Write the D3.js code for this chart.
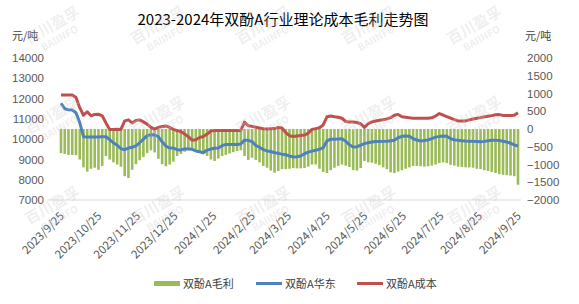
<!DOCTYPE html>
<html>
<head>
<meta charset="utf-8">
<script src="https://cdn.jsdelivr.net/npm/d3@7"></script>
<style>
  body { margin: 0; background: #fff; }
  svg { display: block; font-family: "Noto Sans CJK SC", "Noto Sans", sans-serif; }
  .tick text { fill: #595959; font-size: 11.5px; }
  .legend text { fill: #404040; font-size: 11px; }
</style>
</head>
<body>
<script>
'use strict';

// sample dates: one point every 3 days, 2023/9/25 .. 2024/9/25
const startDate = '2023-09-25';
const endDate = '2024-09-25';
const stepDays = 3;

// 双酚A华东 price (元/吨, left axis)
const priceEast = [
    11770, 11500, 11450, 11440, 11300, 10820, 10120, 10110, 10100, 10100,
    10110, 10120, 10120, 9980, 9820, 9700, 9530, 9480, 9560, 9600,
    9670, 9820, 10000, 10170, 10220, 10210, 10120, 9870, 9660, 9560,
    9560, 9480, 9470, 9520, 9510, 9500, 9420, 9380, 9330, 9460,
    9510, 9550, 9560, 9680, 9740, 9740, 9740, 9740, 9760, 9950,
    9940, 9880, 9690, 9600, 9480, 9420, 9390, 9330, 9300, 9260,
    9230, 9170, 9120, 9130, 9170, 9280, 9360, 9410, 9450, 9500,
    9580, 9910, 10000, 10000, 10010, 10020, 9900, 9720, 9610, 9630,
    9700, 9780, 9820, 9860, 9880, 9880, 9890, 9900, 9920, 9950,
    10070, 10140, 10150, 10140, 10020, 9960, 9910, 9930, 9960, 10030,
    10100, 10130, 10160, 10140, 10020, 9970, 9940, 9920, 9910, 9900,
    9890, 9880, 9870, 9890, 9920, 9950, 9950, 9930, 9900, 9860,
    9800, 9720, 9660
];

// 双酚A成本 theoretical cost (元/吨, left axis)
const costSeries = [
    12180, 12180, 12180, 12180, 12050, 11550, 11180, 11350, 11150, 11220,
    11230, 11150, 10800, 10480, 10470, 10490, 10480, 10900, 10950, 10800,
    10920, 10950, 10850, 10740, 10580, 10490, 10580, 10620, 10650, 10580,
    10480, 10420, 10380, 10250, 10120, 9950, 9970, 10080, 10130, 10250,
    10400, 10420, 10430, 10420, 10420, 10430, 10420, 10420, 10430, 10840,
    10660, 10630, 10590, 10550, 10510, 10500, 10510, 10520, 10580, 10550,
    10320, 10170, 10130, 10160, 10180, 10200, 10300, 10480, 10520, 10560,
    10700, 11100, 11140, 11100, 11080, 11030, 10870, 10850, 10840, 10820,
    10760, 10580, 10760, 10850, 10890, 10930, 10960, 11000, 11060, 11180,
    11220, 11100, 11080, 11050, 11030, 11030, 11030, 11030, 11030, 11050,
    11140, 11260, 11190, 11110, 11040, 10960, 10900, 10890, 10900, 10950,
    10990, 11030, 11060, 11100, 11130, 11160, 11200, 11210, 11170, 11160,
    11160, 11180, 11300
];

// 双酚A毛利 gross profit (元/吨, right axis)
const profitSeries = [
    -680, -700, -730, -730, -740, -860, -1080, -1200, -1120, -1090,
    -1150, -1040, -760, -860, -940, -1000, -1060, -1330, -1380, -1150,
    -990, -880, -790, -680, -600, -660, -840, -990, -1050, -1000,
    -920, -760, -700, -640, -590, -550, -580, -640, -700, -760,
    -860, -900, -830, -760, -730, -690, -650, -620, -600, -760,
    -870, -810, -870, -940, -1040, -1090, -1170, -1230, -1180, -1130,
    -1130, -1120, -1100, -1110, -1110, -1100, -1060, -1000, -1000, -1120,
    -1210, -1240, -1160, -1090, -1040, -1000, -1030, -1070, -1160, -1170,
    -1100, -900, -940, -950, -980, -1020, -1080, -1130, -1220, -1240,
    -1200, -1160, -1120, -1080, -1040, -1040, -1050, -1060, -1050, -1030,
    -1000, -960, -940, -960, -1010, -1030, -1060, -1070, -1080, -1080,
    -1090, -1120, -1130, -1160, -1180, -1210, -1240, -1270, -1290, -1300,
    -1310, -1330, -1570
];

const xTickLabels = [
    '2023/9/25', '2023/10/25', '2023/11/25', '2023/12/25', '2024/1/25', '2024/2/25',
    '2024/3/25', '2024/4/25', '2024/5/25', '2024/6/25', '2024/7/25', '2024/8/25', '2024/9/25'
];
const leftTicks = [7000, 8000, 9000, 10000, 11000, 12000, 13000, 14000];
const rightTicks = [-2000, -1500, -1000, -500, 0, 500, 1000, 1500, 2000];
const seriesNames = ['双酚A毛利', '双酚A华东', '双酚A成本'];
const colors = { profit: '#9bbb59', price: '#4f81bd', cost: '#c0504d' };

function draw() {
    const width = 579, height = 304;
    const plot = { left: 61, right: 518, top: 58, bottom: 200 };
    const parse = d3.timeParse('%Y-%m-%d');
    const parseTick = d3.timeParse('%Y/%m/%d');
    const dates = d3.range(priceEast.length).map(i => d3.timeDay.offset(parse(startDate), i * stepDays));

    const x = d3.scaleTime().domain([parse(startDate), parse(endDate)]).range([plot.left, plot.right]);
    const yL = d3.scaleLinear().domain([7000, 14000]).range([plot.bottom, plot.top]);
    const yR = d3.scaleLinear().domain([-2000, 2000]).range([plot.bottom, plot.top]);

    const svg = d3.select('body').append('svg').attr('width', width).attr('height', height);

    // title + units
    svg.append('text').attr('x', 283).attr('y', 25).attr('text-anchor', 'middle')
        .attr('font-size', 15).attr('fill', '#000')
        .text('2023-2024年双酚A行业理论成本毛利走势图');
    svg.append('text').attr('x', 12).attr('y', 40).attr('font-size', 11).attr('fill', '#404040').text('元/吨');
    svg.append('text').attr('x', 525).attr('y', 40).attr('font-size', 11).attr('fill', '#404040').text('元/吨');

    // axes
    svg.append('g').attr('transform', 'translate(47,0)')
        .call(d3.axisLeft(yL).tickValues(leftTicks).tickSize(0).tickPadding(3).tickFormat(d3.format('d')))
        .call(g => g.select('.domain').remove());
    svg.append('g').attr('transform', 'translate(524,0)')
        .call(d3.axisRight(yR).tickValues(rightTicks).tickSize(0).tickPadding(3).tickFormat(d3.format('d')))
        .call(g => g.select('.domain').remove());
    svg.selectAll('.tick text').attr('font-family', null);

    svg.append('line').attr('x1', 48).attr('x2', 521).attr('y1', plot.bottom).attr('y2', plot.bottom)
        .attr('stroke', '#d9d9d9').attr('stroke-width', 1);

    svg.append('g').attr('class', 'tick').selectAll('text')
        .data(xTickLabels).enter().append('text')
        .attr('transform', d => 'translate(' + (x(parseTick(d)) + 1) + ',' + (plot.bottom + 14) + ') rotate(-45)')
        .attr('text-anchor', 'end')
        .attr('dy', '0.35em')
        .text(d => d);

    // profit bars
    const barW = 2.6;
    svg.append('g').selectAll('rect')
        .data(profitSeries).enter().append('rect')
        .attr('x', (d, i) => x(dates[i]) - barW / 2)
        .attr('y', yR(0))
        .attr('width', barW)
        .attr('height', d => yR(d) - yR(0))
        .attr('fill', colors.profit);

    // lines
    const line = d3.line().x((d, i) => x(dates[i])).y(d => yL(d));
    svg.append('path').datum(priceEast).attr('d', line)
        .attr('fill', 'none').attr('stroke', colors.price).attr('stroke-width', 3).attr('stroke-linejoin', 'round');
    svg.append('path').datum(costSeries).attr('d', line)
        .attr('fill', 'none').attr('stroke', colors.cost).attr('stroke-width', 3).attr('stroke-linejoin', 'round');

    // legend
    const legend = svg.append('g').attr('class', 'legend');
    const lx = [154, 256, 357];
    seriesNames.forEach((name, i) => {
        if (i === 0) {
            legend.append('rect').attr('x', lx[i]).attr('y', 281).attr('width', 26).attr('height', 5).attr('fill', colors.profit);
        } else {
            legend.append('line').attr('x1', lx[i]).attr('x2', lx[i] + 26).attr('y1', 283.5).attr('y2', 283.5)
                .attr('stroke', i === 1 ? colors.price : colors.cost).attr('stroke-width', 3);
        }
        legend.append('text').attr('x', lx[i] + 29).attr('y', 287.5).text(name);
    });

    // watermark
    const wm = svg.append('g').attr('fill', '#c8c8c8').attr('opacity', 0.3).attr('font-weight', 'bold');
    [30, 120, 210].forEach(cy => {
        d3.range(5).forEach(k => {
            const g = wm.append('g').attr('transform', 'translate(' + (55 + 105.5 * k) + ',' + cy + ') rotate(-30)');
            g.append('text').attr('text-anchor', 'middle').attr('font-size', 15).attr('y', 0).text('百川盈孚');
            g.append('text').attr('text-anchor', 'middle').attr('font-size', 10).attr('y', 13).text('BAIINFO');
        });
    });
}

window.onload = draw;
</script>
</body>
</html>
